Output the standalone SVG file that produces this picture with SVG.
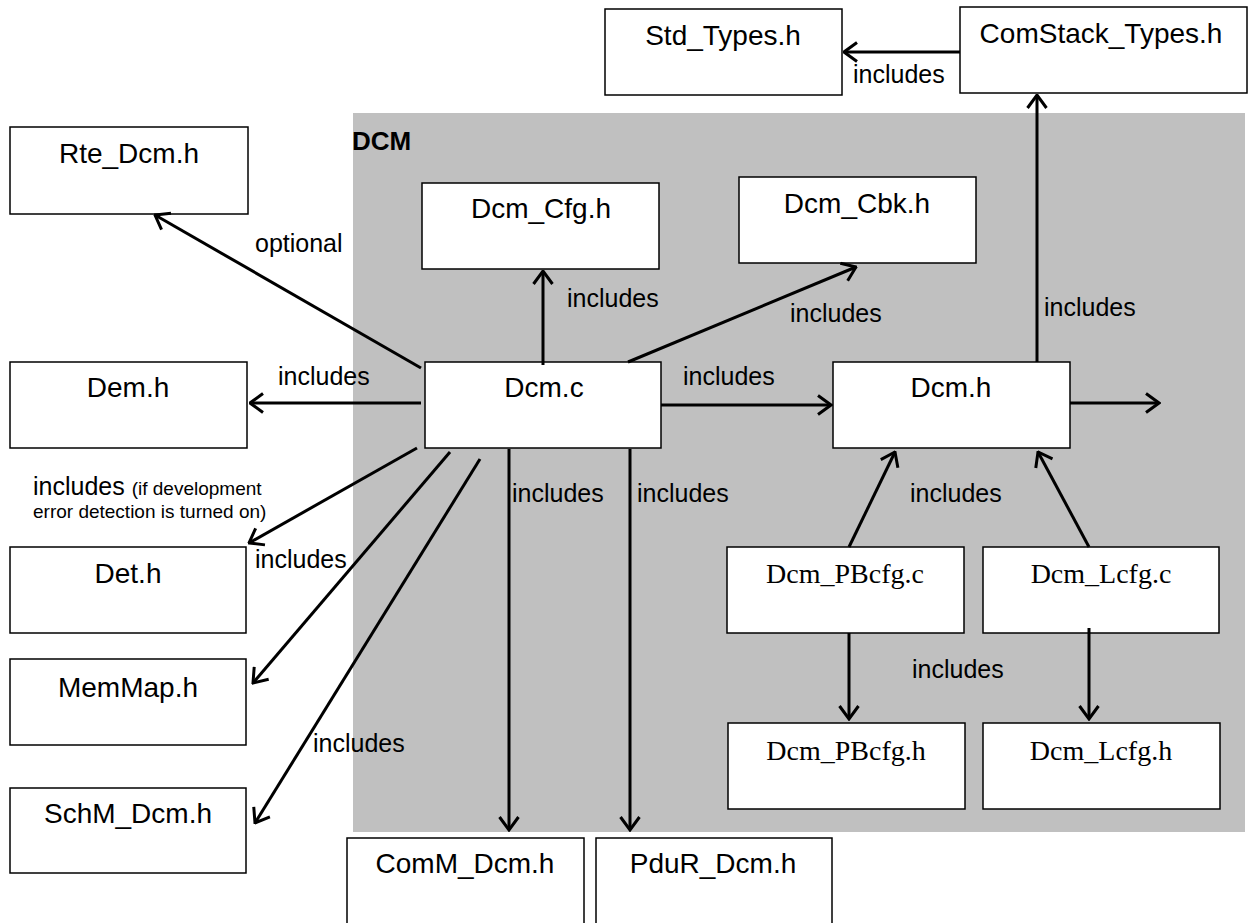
<svg xmlns="http://www.w3.org/2000/svg" width="1252" height="923" viewBox="0 0 1252 923">
<style>
.box{fill:#fff;stroke:#000;stroke-width:1.5}
.t{font-family:"Liberation Sans",Arial,sans-serif;font-size:28px;text-anchor:middle;fill:#000}
.tt{font-family:"Liberation Serif","Times New Roman",serif;font-size:28px;text-anchor:middle;fill:#000}
.lbl{font-family:"Liberation Sans",Arial,sans-serif;font-size:25px;fill:#000}
.sm{font-size:19px}
.c{stroke:#000;stroke-width:3;fill:none;marker-end:url(#arr)}
</style>
<defs>
<marker id="arr" markerUnits="userSpaceOnUse" viewBox="0 0 16 22" refX="14.5" refY="11" markerWidth="16" markerHeight="22" orient="auto">
<path d="M1.5,1.5 L14.5,11 L1.5,20.5" fill="none" stroke="#000" stroke-width="3"/>
</marker>
</defs>
<rect id="dcm-area" x="353" y="113" width="892" height="719" fill="#c0c0c0"/>
<text x="352" y="150" font-family="'Liberation Sans',Arial,sans-serif" font-size="26" font-weight="bold">DCM</text>
<g id="std-types"><rect class="box" x="605" y="9" width="237" height="86"/><text class="t" x="723" y="45">Std_Types.h</text></g>
<g id="comstack-types"><rect class="box" x="960" y="7" width="287" height="86"/><text class="t" x="1101" y="43">ComStack_Types.h</text></g>
<g id="rte-dcm"><rect class="box" x="10" y="127" width="238" height="87"/><text class="t" x="129" y="163">Rte_Dcm.h</text></g>
<g id="dcm-cfg"><rect class="box" x="422" y="183" width="237" height="86"/><text class="t" x="541" y="218">Dcm_Cfg.h</text></g>
<g id="dcm-cbk"><rect class="box" x="739" y="177" width="237" height="86"/><text class="t" x="857" y="213">Dcm_Cbk.h</text></g>
<g id="dem"><rect class="box" x="10" y="362" width="237" height="86"/><text class="t" x="128" y="397">Dem.h</text></g>
<g id="dcm-c"><rect class="box" x="425" y="362" width="236" height="86"/><text class="t" x="544" y="397">Dcm.c</text></g>
<g id="dcm-h"><rect class="box" x="833" y="362" width="237" height="86"/><text class="t" x="951" y="397">Dcm.h</text></g>
<g id="det"><rect class="box" x="10" y="547" width="236" height="86"/><text class="t" x="128" y="583">Det.h</text></g>
<g id="memmap"><rect class="box" x="10" y="659" width="236" height="86"/><text class="t" x="128" y="697">MemMap.h</text></g>
<g id="schm-dcm"><rect class="box" x="10" y="788" width="236" height="85"/><text class="t" x="128" y="823">SchM_Dcm.h</text></g>
<g id="comm-dcm"><rect class="box" x="347" y="838" width="237" height="90"/><text class="t" x="465" y="873">ComM_Dcm.h</text></g>
<g id="pdur-dcm"><rect class="box" x="596" y="838" width="236" height="90"/><text class="t" x="713" y="873">PduR_Dcm.h</text></g>
<g id="dcm-pbcfg-c"><rect class="box" x="727" y="547" width="237" height="86"/><text class="tt" x="845" y="583">Dcm_PBcfg.c</text></g>
<g id="dcm-lcfg-c"><rect class="box" x="983" y="547" width="236" height="86"/><text class="tt" x="1101" y="583">Dcm_Lcfg.c</text></g>
<g id="dcm-pbcfg-h"><rect class="box" x="728" y="723" width="237" height="86"/><text class="tt" x="846" y="760">Dcm_PBcfg.h</text></g>
<g id="dcm-lcfg-h"><rect class="box" x="983" y="723" width="237" height="86"/><text class="tt" x="1101" y="760">Dcm_Lcfg.h</text></g>
<g id="connectors">
<line class="c" x1="960" y1="52" x2="844" y2="52"/>
<line class="c" x1="1037" y1="362" x2="1037" y2="95"/>
<line class="c" x1="421" y1="368" x2="155" y2="215"/>
<line class="c" x1="543" y1="365" x2="543" y2="271"/>
<line class="c" x1="628" y1="362" x2="856" y2="267"/>
<line class="c" x1="421" y1="403" x2="250" y2="403"/>
<line class="c" x1="661" y1="405" x2="831" y2="405"/>
<line class="c" x1="1070" y1="403" x2="1159" y2="403"/>
<line class="c" x1="849" y1="547" x2="895" y2="452"/>
<line class="c" x1="1089" y1="547" x2="1038" y2="452"/>
<line class="c" x1="849" y1="633" x2="849" y2="719"/>
<line class="c" x1="1089" y1="628" x2="1089" y2="719"/>
<line class="c" x1="417" y1="448" x2="249" y2="543"/>
<line class="c" x1="450" y1="452" x2="253" y2="683"/>
<line class="c" x1="480" y1="459" x2="255" y2="823"/>
<line class="c" x1="509" y1="449" x2="509" y2="830"/>
<line class="c" x1="630" y1="449" x2="630" y2="830"/>
<text class="lbl" x="853" y="83">includes</text>
<text class="lbl" x="1044" y="316">includes</text>
<text class="lbl" x="255" y="252">optional</text>
<text class="lbl" x="567" y="307">includes</text>
<text class="lbl" x="790" y="322">includes</text>
<text class="lbl" x="278" y="385">includes</text>
<text class="lbl" x="683" y="385">includes</text>
<text class="lbl" x="910" y="502">includes</text>
<text class="lbl" x="912" y="678">includes</text>
<text class="lbl" x="33" y="495">includes <tspan class="sm">(if development</tspan></text>
<text class="lbl sm" x="33" y="518">error detection is turned on)</text>
<text class="lbl" x="255" y="568">includes</text>
<text class="lbl" x="313" y="752">includes</text>
<text class="lbl" x="512" y="502">includes</text>
<text class="lbl" x="637" y="502">includes</text>
</g>
</svg>
